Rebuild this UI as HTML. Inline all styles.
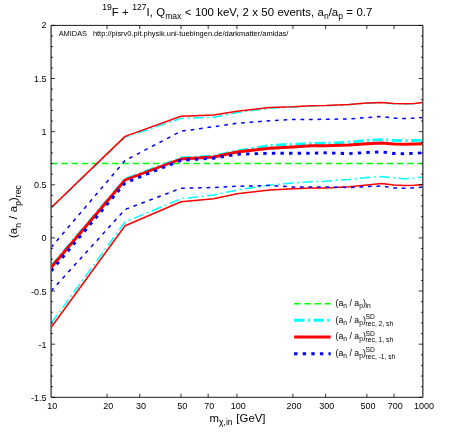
<!DOCTYPE html><html><head><meta charset="utf-8"><style>html,body{margin:0;padding:0;background:#fff}</style></head><body><svg width="463" height="432" viewBox="0 0 463 432" style="display:block;font-family:'Liberation Sans',sans-serif;will-change:transform">
<rect width="463" height="432" fill="#fff"/>
<clipPath id="c"><rect x="51.1" y="25.4" width="371.7" height="371.90000000000003"/></clipPath>
<g clip-path="url(#c)" fill="none" stroke-linejoin="round">
<line x1="51.1" y1="163.50" x2="422.8" y2="163.50" stroke="#00ff00" stroke-width="1.5" stroke-dasharray="6.5,3.67"/>
<polyline points="51.10,208.40 125.06,137.20 181.00,118.40 213.73,117.20 236.95,112.60 269.68,108.30 292.90,107.00 310.91,106.00 325.62,105.70 348.84,104.70 366.85,103.20 381.57,102.70 394.01,103.70 404.79,104.00 414.30,103.70 422.80,102.70" stroke="#00ffff" stroke-width="1.5" stroke-dasharray="10.3,3.5,2,3.5"/>
<polyline points="51.10,323.50 125.06,222.00 181.00,198.75 213.73,195.00 236.95,190.00 269.68,185.00 292.90,183.00 310.91,181.75 325.62,181.25 348.84,179.50 366.85,177.50 381.57,176.50 394.01,178.00 404.79,178.75 414.30,178.00 422.80,177.00" stroke="#00ffff" stroke-width="1.5" stroke-dasharray="10.3,3.5,2,3.5"/>
<polyline points="51.10,266.30 125.06,179.30 181.00,158.00 213.73,156.00 236.95,151.00 269.68,145.50 292.90,144.20 310.91,143.40 325.62,143.30 348.84,142.10 366.85,140.40 381.57,139.60 394.01,140.40 404.79,140.60 414.30,140.50 422.80,140.40" stroke="#00ffff" stroke-width="2.9" stroke-dasharray="10.3,3.5,2,3.5"/>
<polyline points="51.10,207.80 125.06,136.40 181.00,116.25 213.73,115.00 236.95,111.25 269.68,107.50 292.90,106.75 310.91,105.75 325.62,105.50 348.84,104.50 366.85,103.00 381.57,102.50 394.01,103.50 404.79,103.75 414.30,103.50 422.80,102.50" stroke="#ff0000" stroke-width="1.5"/>
<polyline points="51.10,327.50 125.06,225.75 181.00,201.75 213.73,198.75 236.95,193.75 269.68,190.00 292.90,188.75 310.91,188.00 325.62,188.00 348.84,186.75 366.85,185.00 381.57,183.50 394.01,185.00 404.79,185.50 414.30,185.20 422.80,184.50" stroke="#ff0000" stroke-width="1.5"/>
<polyline points="51.10,267.50 125.06,180.00 181.00,159.00 213.73,157.00 236.95,152.00 269.68,148.25 292.90,147.00 310.91,145.75 325.62,145.75 348.84,145.00 366.85,143.75 381.57,143.00 394.01,144.00 404.79,144.25 414.30,144.00 422.80,143.75" stroke="#ff0000" stroke-width="2.9"/>
<polyline points="51.10,247.50 125.06,160.50 181.00,131.25 213.73,126.75 236.95,123.25 269.68,120.75 292.90,119.50 310.91,119.50 325.62,119.25 348.84,119.00 366.85,117.50 381.57,116.50 394.01,118.25 404.79,118.50 414.30,118.20 422.80,117.50" stroke="#0000ff" stroke-width="1.5" stroke-dasharray="3.7,4.8"/>
<polyline points="51.10,291.00 125.06,209.50 181.00,188.25 213.73,187.50 236.95,186.25 269.68,185.50 292.90,187.00 310.91,187.00 325.62,187.00 348.84,187.50 366.85,186.50 381.57,186.00 394.01,188.00 404.79,188.25 414.30,187.80 422.80,187.00" stroke="#0000ff" stroke-width="1.5" stroke-dasharray="3.7,4.8"/>
<polyline points="51.10,271.00 125.06,183.00 181.00,160.30 213.73,158.20 236.95,154.20 269.68,153.30 292.90,153.30 310.91,153.30 325.62,152.80 348.84,153.60 366.85,152.50 381.57,151.80 394.01,153.50 404.79,153.70 414.30,153.30 422.80,152.80" stroke="#0000ff" stroke-width="2.9" stroke-dasharray="3.4,5.2"/>
</g>
<g stroke="#000" fill="none">
<path d="M51.1 25.4H422.8M51.1 397.3H422.8" stroke-width="0.9"/>
<path d="M51.1 25.4V397.3M422.8 25.4V397.3" stroke-width="1.6" stroke="#5c5c5c"/>
<g stroke-width="0.8">
<path d="M51.1 397.30h4.0M422.8 397.30h-4.0"/>
<path d="M51.1 386.67h1.9M422.8 386.67h-1.9"/>
<path d="M51.1 376.05h1.9M422.8 376.05h-1.9"/>
<path d="M51.1 365.42h1.9M422.8 365.42h-1.9"/>
<path d="M51.1 354.80h1.9M422.8 354.80h-1.9"/>
<path d="M51.1 344.17h4.0M422.8 344.17h-4.0"/>
<path d="M51.1 333.55h1.9M422.8 333.55h-1.9"/>
<path d="M51.1 322.92h1.9M422.8 322.92h-1.9"/>
<path d="M51.1 312.29h1.9M422.8 312.29h-1.9"/>
<path d="M51.1 301.67h1.9M422.8 301.67h-1.9"/>
<path d="M51.1 291.04h4.0M422.8 291.04h-4.0"/>
<path d="M51.1 280.42h1.9M422.8 280.42h-1.9"/>
<path d="M51.1 269.79h1.9M422.8 269.79h-1.9"/>
<path d="M51.1 259.17h1.9M422.8 259.17h-1.9"/>
<path d="M51.1 248.54h1.9M422.8 248.54h-1.9"/>
<path d="M51.1 237.91h4.0M422.8 237.91h-4.0"/>
<path d="M51.1 227.29h1.9M422.8 227.29h-1.9"/>
<path d="M51.1 216.66h1.9M422.8 216.66h-1.9"/>
<path d="M51.1 206.04h1.9M422.8 206.04h-1.9"/>
<path d="M51.1 195.41h1.9M422.8 195.41h-1.9"/>
<path d="M51.1 184.79h4.0M422.8 184.79h-4.0"/>
<path d="M51.1 174.16h1.9M422.8 174.16h-1.9"/>
<path d="M51.1 163.53h1.9M422.8 163.53h-1.9"/>
<path d="M51.1 152.91h1.9M422.8 152.91h-1.9"/>
<path d="M51.1 142.28h1.9M422.8 142.28h-1.9"/>
<path d="M51.1 131.66h4.0M422.8 131.66h-4.0"/>
<path d="M51.1 121.03h1.9M422.8 121.03h-1.9"/>
<path d="M51.1 110.41h1.9M422.8 110.41h-1.9"/>
<path d="M51.1 99.78h1.9M422.8 99.78h-1.9"/>
<path d="M51.1 89.15h1.9M422.8 89.15h-1.9"/>
<path d="M51.1 78.53h4.0M422.8 78.53h-4.0"/>
<path d="M51.1 67.90h1.9M422.8 67.90h-1.9"/>
<path d="M51.1 57.28h1.9M422.8 57.28h-1.9"/>
<path d="M51.1 46.65h1.9M422.8 46.65h-1.9"/>
<path d="M51.1 36.03h1.9M422.8 36.03h-1.9"/>
<path d="M51.1 25.40h4.0M422.8 25.40h-4.0"/>
<path d="M107.05 397.3v-3.6M107.05 25.4v3.6"/>
<path d="M139.77 397.3v-3.6M139.77 25.4v3.6"/>
<path d="M181.00 397.3v-3.6M181.00 25.4v3.6"/>
<path d="M208.16 397.3v-3.6M208.16 25.4v3.6"/>
<path d="M236.95 397.3v-3.6M236.95 25.4v3.6"/>
<path d="M292.90 397.3v-3.6M292.90 25.4v3.6"/>
<path d="M325.62 397.3v-3.6M325.62 25.4v3.6"/>
<path d="M366.85 397.3v-3.6M366.85 25.4v3.6"/>
<path d="M394.01 397.3v-3.6M394.01 25.4v3.6"/>
</g></g>
<g font-size="9" fill="#000">
<text x="46.6" y="28.30" text-anchor="end">2</text>
<text x="46.6" y="81.56" text-anchor="end">1.5</text>
<text x="46.6" y="134.81" text-anchor="end">1</text>
<text x="46.6" y="188.07" text-anchor="end">0.5</text>
<text x="46.6" y="241.33" text-anchor="end">0</text>
<text x="46.6" y="294.59" text-anchor="end">-0.5</text>
<text x="46.6" y="347.84" text-anchor="end">-1</text>
<text x="46.6" y="401.10" text-anchor="end">-1.5</text>
<text x="52.30" y="409.3" text-anchor="middle">10</text>
<text x="108.25" y="409.3" text-anchor="middle">20</text>
<text x="140.97" y="409.3" text-anchor="middle">30</text>
<text x="182.20" y="409.3" text-anchor="middle">50</text>
<text x="209.36" y="409.3" text-anchor="middle">70</text>
<text x="238.15" y="409.3" text-anchor="middle">100</text>
<text x="294.10" y="409.3" text-anchor="middle">200</text>
<text x="326.82" y="409.3" text-anchor="middle">300</text>
<text x="368.05" y="409.3" text-anchor="middle">500</text>
<text x="395.21" y="409.3" text-anchor="middle">700</text>
<text x="424.00" y="409.3" text-anchor="middle">1000</text>
</g>
<text id="title" x="102.2" y="16.3" word-spacing="0.25" font-size="11.4" fill="#000"><tspan id="t19" dy="-5.8" font-size="8.6">19</tspan><tspan dy="5.8">F + </tspan><tspan dy="-5.8" font-size="8.6">127</tspan><tspan dy="5.8">I, Q</tspan><tspan dy="3" font-size="8.6">max</tspan><tspan dy="-3"> &lt; 100 keV, 2 x 50 events, a</tspan><tspan dy="3" font-size="8.6">n</tspan><tspan dy="-3">/a</tspan><tspan dy="3" font-size="8.6">p</tspan><tspan dy="-3"> = 0.7</tspan></text>
<text x="58.7" y="35.5" font-size="7.4" fill="#000">AMIDAS</text>
<text id="url" x="92.9" y="35.5" font-size="7.48" fill="#000">http://pisrv0.pit.physik.uni-tuebingen.de/darkmatter/amidas/</text>
<text id="xl" x="209.5" y="421.8" word-spacing="0.6" font-size="11.4" fill="#000">m<tspan dy="3.6" font-size="8.6">χ,in</tspan><tspan dy="-3.6"> [GeV]</tspan></text>
<text id="yl" transform="translate(17.2,211.6) rotate(-90)" word-spacing="0.7" text-anchor="middle" font-size="11.4" fill="#000">(a<tspan dy="3.6" font-size="8.6">n</tspan><tspan dy="-3.6"> / a</tspan><tspan dy="3.6" font-size="8.6">p</tspan><tspan dy="-3.6">)</tspan><tspan dy="3.6" font-size="8.6">rec</tspan></text>
<line x1="294.1" y1="303.7" x2="330.7" y2="303.7" stroke="#00ff00" stroke-width="1.5" stroke-dasharray="6.5,3.67"/>
<line x1="294.1" y1="320.2" x2="330.7" y2="320.2" stroke="#00ffff" stroke-width="2.9" stroke-dasharray="10.3,3.5,2,3.5"/>
<line x1="294.1" y1="337.0" x2="330.7" y2="337.0" stroke="#ff0000" stroke-width="2.9"/>
<line x1="294.1" y1="353.7" x2="330.7" y2="353.7" stroke="#0000ff" stroke-width="2.9" stroke-dasharray="3.4,5.2"/>
<g font-size="8.7" fill="#000">
<text id="lg0" x="335.6" y="306.0">(a<tspan dy="2.1" font-size="6.7">n</tspan><tspan dy="-2.1"> / a</tspan><tspan dy="2.1" font-size="6.7">p</tspan><tspan dy="-2.1">)</tspan></text>
<text x="365.6" y="308.3" font-size="6.7">in</text>
<text x="335.6" y="322.5">(a<tspan dy="2.1" font-size="6.7">n</tspan><tspan dy="-2.1"> / a</tspan><tspan dy="2.1" font-size="6.7">p</tspan><tspan dy="-2.1">)</tspan></text>
<text x="365.6" y="318.7" font-size="6.7">SD</text>
<text x="365.6" y="325.59999999999997" font-size="6.7">rec, 2, sh</text>
<text x="335.6" y="339.3">(a<tspan dy="2.1" font-size="6.7">n</tspan><tspan dy="-2.1"> / a</tspan><tspan dy="2.1" font-size="6.7">p</tspan><tspan dy="-2.1">)</tspan></text>
<text x="365.6" y="335.5" font-size="6.7">SD</text>
<text x="365.6" y="342.4" font-size="6.7">rec, 1, sh</text>
<text x="335.6" y="356.0">(a<tspan dy="2.1" font-size="6.7">n</tspan><tspan dy="-2.1"> / a</tspan><tspan dy="2.1" font-size="6.7">p</tspan><tspan dy="-2.1">)</tspan></text>
<text x="365.6" y="352.2" font-size="6.7">SD</text>
<text x="365.6" y="359.09999999999997" font-size="6.7">rec, -1, sh</text>
</g>
</svg></body></html>
